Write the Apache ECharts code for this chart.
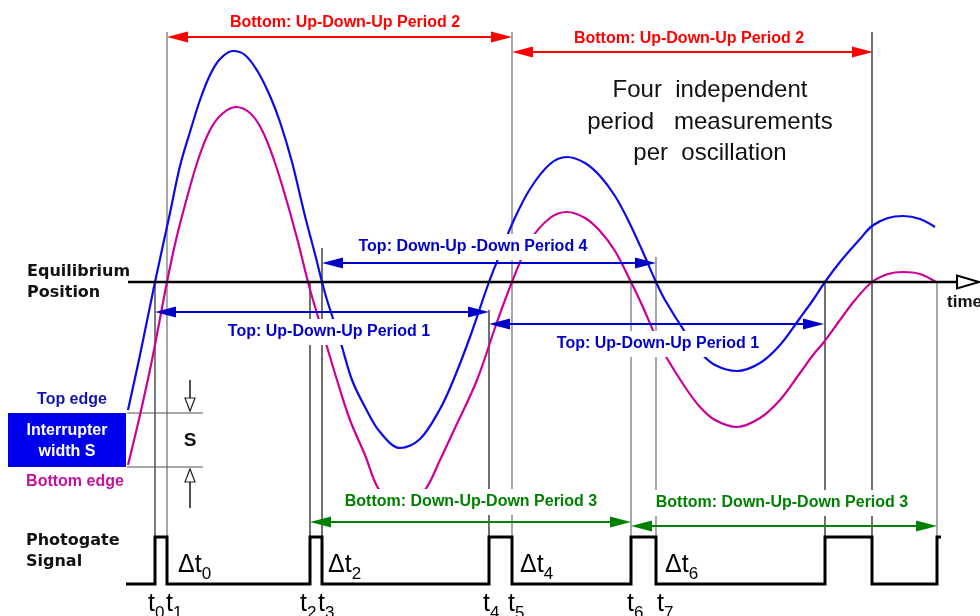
<!DOCTYPE html>
<html><head><meta charset="utf-8">
<script src="https://cdn.jsdelivr.net/npm/echarts@6/dist/echarts.min.js"></script>
<style>html,body{margin:0;padding:0;background:#fff}#c{width:980px;height:616px}</style>
</head><body><div id="c"></div>
<script>
// ---- data (time in arbitrary units, displacement: + up, 0 = equilibrium) ----
const topEdgeT = [128,140,155,170,180,190,200,210,220,233,245,258,270,280,292,305,315,322,327,340,352,365,380,400,420,440,453,470,489,500,513,530,550,567,585,600,615,628,642,656,665,685,700,715,737,760,780,800,813,825,840,860,872,888,903,920,935];
const topEdgeY = [-128,-73,0,69,116,150,182,207,223,231,227,210,186,160,120,66,28,0,-18,-58,-98,-125,-150,-166,-157,-127,-99,-55,0,28,60,93,118,125,119,106,86,62,32,0,-18,-50,-70,-83,-89,-81,-63,-36,-18,0,20,43,56,64,66,63,55];
const bottomEdgeT = [128,140,152,167,176,185,198,210,222,236,250,262,274,285,297,308,313,325,337,350,365,378,390,403,416,427,440,455,477,497,512,530,550,567,585,600,615,631,642,656,665,685,700,715,737,760,780,800,813,824,840,855,872,888,903,920,936];
const bottomEdgeY = [-183,-133,-78,0,42,77,122,152,168,175,169,152,122,87,44,0,-18,-58,-98,-138,-173,-206,-216,-222,-216,-205,-178,-146,-98,-40,0,41,64,70,64,51,31,0,-23,-55,-73,-105,-125,-138,-145,-136,-118,-91,-73,-60,-38,-18,0,8,10,8,0];

// crossing times t0..t7 and the further crossings
const crossNames = ['0','1','2','3','4','5','6','7'];
const crossT = [155,167,310,322,489,512,631,656];
const crossLabelT = [148,166,300,318,483,508,627,657];
const guideT = [155,167,310,322,489,512,631,656,825,872,937];
const guideTop = [0,250,0,34,-28,250,0,25,0,250,0];

// photogate signal
const pulseRise = [155,310,489,631,825,937];
const pulseFall = [167,322,512,656,872,941];
const signalStart = 126;
const signalLow = -302, signalHigh = -255;

// period measurements
const periodNames = ['Bottom: Up-Down-Up Period 2','Bottom: Up-Down-Up Period 2','Top: Up-Down-Up Period 1','Top: Up-Down-Up Period 1','Top: Down-Up -Down Period 4','Bottom: Down-Up-Down Period 3','Bottom: Down-Up-Down Period 3'];
const periodStart = [167,512,155,489,322,310,631];
const periodEnd = [512,873,489,824,656,631,937];
const periodLevel = [245,230,-30,-42,19,-240,-244];
const periodLabelT = [345,689,329,658,473,471,782];
const periodLabelY = [259,243,-50,-62,35,-220,-221];
const periodKind = ['r','r','b','b','b','g','g'];

// delta-t labels
const deltaNames = ['0','2','4','6'];
const deltaLabelT = [178,328,520,665];
const deltaLabelY = -271;
const crossLabelY = -310;

// equilibrium & interrupter
const eqStart = 128, eqTip = 979;
const edgeTop = -131, edgeBottom = -185;
const boxLeft = 8, boxRight = 126;
const dimT = 190, dimLineStart = 127, dimLineEnd = 203;
const dimTopFrom = -98, dimBottomTo = -226;

// notes
const noteText = ['Equilibrium','Position','time','Top edge','Interrupter','width S','Bottom edge','S','Photogate','Signal','Four  independent','period   measurements','per  oscillation'];
const noteT = [27,27,947,72,67,67,75,190,26,26,710,710,710];
const noteY = [10,-11,-20,-118,-149,-170,-200,-159,-259,-280,192,160,129];
const noteKind = ['eq','eq','tm','top','white','white','bot','s','eq','eq','big','big','big'];

// ---- styles ----
const C = {blue:'#0b0be8', magenta:'#cc0099', r:'#ff0000', b:'#0000c8', g:'#008000'};
const guideColor = ['#333','#777','#222','#222','#222','#777','#777','#777','#222','#222','#777'];
const noteStyles = {
  eq:{font:'bold 16px "DejaVu Sans"', fill:'#111', align:'left'},
  tm:{font:'bold 17px "Liberation Sans"', fill:'#111', align:'left'},
  top:{font:'bold 16px "Liberation Sans"', fill:'#1414b0', align:'center'},
  white:{font:'bold 16px "Liberation Sans"', fill:'#fff', align:'center'},
  bot:{font:'bold 16px "Liberation Sans"', fill:'#c4109a', align:'center'},
  s:{font:'bold 19px "Liberation Sans"', fill:'#111', align:'center'},
  big:{font:'24px "Liberation Sans"', fill:'#111', align:'center'}
};
const subRich = {
  a:{font:'25px "Liberation Sans"', lineHeight:25, verticalAlign:'top', fill:'#000'},
  b:{font:'17px "Liberation Sans"', lineHeight:17, verticalAlign:'top', padding:[13,0,0,0], fill:'#000'}
};

// ---- build ----
const signal = [[signalStart, signalLow]];
pulseRise.forEach((r,i)=>{
  signal.push([r, signalLow],[r, signalHigh],[pulseFall[i], signalHigh]);
  if (i < pulseRise.length-1) signal.push([pulseFall[i], signalLow]);
});

const chart = echarts.init(document.getElementById('c'));
const option = {
  animation:false,
  grid:{left:0,right:0,top:0,bottom:0},
  xAxis:{type:'value',min:0,max:980,show:false},
  yAxis:{type:'value',min:-334,max:282,show:false},
  series:[
    { type:'custom', z:1, silent:true,
      data: guideT.map((t,i)=>[t, guideTop[i], signalHigh]),
      encode:{x:0,y:[1,2]},
      renderItem(p, api){
        const a = api.coord([api.value(0), api.value(1)]), b = api.coord([api.value(0), api.value(2)]);
        return {type:'line', shape:{x1:a[0],y1:a[1],x2:b[0],y2:b[1]}, style:{stroke:guideColor[p.dataIndex], lineWidth:1.3}};
      }},
    { type:'line', z:2, name:'Top edge', data: topEdgeT.map((t,i)=>[t, topEdgeY[i]]), smooth:0.35, showSymbol:false,
      lineStyle:{color:C.blue, width:2.2}},
    { type:'line', z:2, name:'Bottom edge', data: bottomEdgeT.map((t,i)=>[t, bottomEdgeY[i]]), smooth:0.35, showSymbol:false,
      lineStyle:{color:C.magenta, width:2.2}},
    { type:'line', z:3, name:'Photogate', data: signal, showSymbol:false,
      lineStyle:{color:'#000', width:3, join:'miter', cap:'butt'}},
    // equilibrium axis with open arrow
    { type:'custom', z:3, silent:true, data:[[eqStart, eqTip, 0]], encode:{x:[0,1], y:2},
      renderItem(p, api){
        const a = api.coord([api.value(0), api.value(2)]), b = api.coord([api.value(1), api.value(2)]);
        const L = 22, H = 6.5;
        return {type:'group', children:[
          {type:'line', shape:{x1:a[0],y1:a[1],x2:b[0]-L,y2:b[1]}, style:{stroke:'#000', lineWidth:2.4}},
          {type:'polygon', shape:{points:[[b[0],b[1]],[b[0]-L,b[1]-H],[b[0]-L,b[1]+H]]}, style:{fill:'#fff', stroke:'#000', lineWidth:2}}
        ]};
      }},
    // interrupter box and S dimension
    { type:'custom', z:3, silent:true, data:[[boxLeft, boxRight, edgeTop, edgeBottom]], encode:{x:[0,1], y:[2,3]},
      renderItem(p, api){
        const tl = api.coord([boxLeft, edgeTop]), br = api.coord([boxRight, edgeBottom]);
        const l1 = api.coord([dimLineStart, edgeTop]), l2 = api.coord([dimLineEnd, edgeTop]);
        const m1 = api.coord([dimLineStart, edgeBottom]), m2 = api.coord([dimLineEnd, edgeBottom]);
        const ta = api.coord([dimT, dimTopFrom]), tt = api.coord([dimT, edgeTop]);
        const ba = api.coord([dimT, dimBottomTo]), bt = api.coord([dimT, edgeBottom]);
        const AL = 13, AH = 5;
        const tip1 = tt[1]-2, tip2 = bt[1]+2;
        return {type:'group', children:[
          {type:'rect', shape:{x:tl[0], y:tl[1], width:br[0]-tl[0], height:br[1]-tl[1]}, style:{fill:'#0000ee'}},
          {type:'line', shape:{x1:l1[0],y1:l1[1],x2:l2[0],y2:l2[1]}, style:{stroke:'#555', lineWidth:1.2}},
          {type:'line', shape:{x1:m1[0],y1:m1[1],x2:m2[0],y2:m2[1]}, style:{stroke:'#555', lineWidth:1.2}},
          {type:'line', shape:{x1:ta[0],y1:ta[1],x2:ta[0],y2:tip1-AL}, style:{stroke:'#222', lineWidth:1.6}},
          {type:'polygon', shape:{points:[[ta[0],tip1],[ta[0]-AH,tip1-AL],[ta[0]+AH,tip1-AL]]}, style:{fill:'#fff', stroke:'#222', lineWidth:1.2}},
          {type:'line', shape:{x1:ba[0],y1:ba[1],x2:ba[0],y2:tip2+AL}, style:{stroke:'#222', lineWidth:1.6}},
          {type:'polygon', shape:{points:[[ba[0],tip2],[ba[0]-AH,tip2+AL],[ba[0]+AH,tip2+AL]]}, style:{fill:'#fff', stroke:'#222', lineWidth:1.2}}
        ]};
      }},
    // period labels with white background
    { type:'custom', z:5, silent:true, data: periodLabelT.map((t,i)=>[t, periodLabelY[i]]), encode:{x:0,y:1},
      renderItem(p, api){
        const a = api.coord([api.value(0), api.value(1)]);
        const i = p.dataIndex;
        return {type:'text', x:a[0], y:a[1], style:{text:periodNames[i], font:'bold 16px "Liberation Sans"', fill:C[periodKind[i]],
          align:'center', verticalAlign:'middle', backgroundColor:'#fff', padding:[5,5,5,5]}};
      }},
    // double arrows
    { type:'custom', z:6, silent:true, data: periodStart.map((s,i)=>[s, periodEnd[i], periodLevel[i]]), encode:{x:[0,1], y:2},
      renderItem(p, api){
        const a = api.coord([api.value(0), api.value(2)]), b = api.coord([api.value(1), api.value(2)]);
        const c = C[periodKind[p.dataIndex]];
        const L = 21, H = 5.5;
        return {type:'group', children:[
          {type:'line', shape:{x1:a[0]+L-2,y1:a[1],x2:b[0]-L+2,y2:b[1]}, style:{stroke:c, lineWidth:2}},
          {type:'polygon', shape:{points:[[a[0],a[1]],[a[0]+L,a[1]-H],[a[0]+L,a[1]+H]]}, style:{fill:c}},
          {type:'polygon', shape:{points:[[b[0],b[1]],[b[0]-L,b[1]-H],[b[0]-L,b[1]+H]]}, style:{fill:c}}
        ]};
      }},
    // notes
    { type:'custom', z:6, silent:true, data: noteT.map((t,i)=>[t, noteY[i]]), encode:{x:0,y:1},
      renderItem(p, api){
        const a = api.coord([api.value(0), api.value(1)]);
        const s = noteStyles[noteKind[p.dataIndex]];
        return {type:'text', x:a[0], y:a[1], style:Object.assign({text:noteText[p.dataIndex], verticalAlign:'middle'}, s)};
      }},
    // delta t labels
    { type:'custom', z:6, silent:true, data: deltaLabelT.map(t=>[t, deltaLabelY]), encode:{x:0,y:1},
      renderItem(p, api){
        const a = api.coord([api.value(0), api.value(1)]);
        return {type:'text', x:a[0], y:a[1], style:{text:'{a|Δt}{b|'+deltaNames[p.dataIndex]+'}', rich:subRich, align:'left', verticalAlign:'top'}};
      }},
    // crossing time labels
    { type:'custom', z:6, silent:true, data: crossLabelT.map(t=>[t, crossLabelY]), encode:{x:0,y:1},
      renderItem(p, api){
        const a = api.coord([api.value(0), api.value(1)]);
        return {type:'text', x:a[0], y:a[1], style:{text:'{a|t}{b|'+crossNames[p.dataIndex]+'}', rich:subRich, align:'left', verticalAlign:'top'}};
      }}
  ]
};
chart.setOption(option);
</script>
</body></html>
